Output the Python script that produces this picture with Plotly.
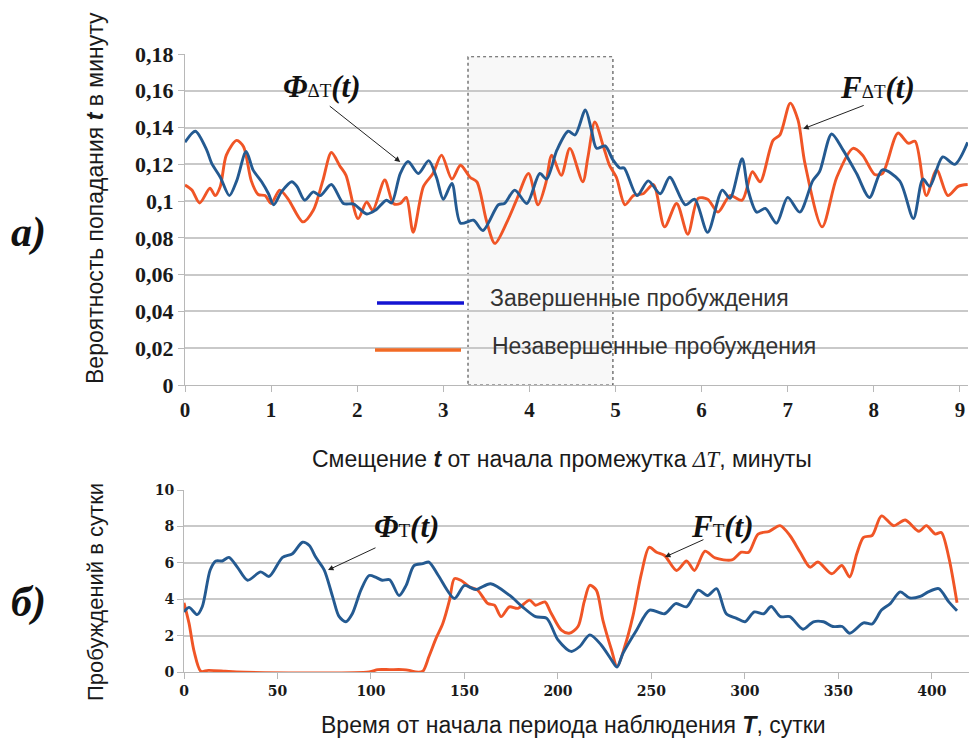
import plotly.graph_objects as go

W, H = 970, 742

# ---------- panel a: probability of landing at offset t (minutes) ----------
t_complete = [0, 0.12, 0.25, 0.31, 0.41, 0.515, 0.6, 0.71, 0.79, 0.89, 0.97, 1.03, 1.12, 1.24, 1.30,
              1.39, 1.49, 1.57, 1.70, 1.84, 1.96, 2.11, 2.21, 2.34, 2.40, 2.50, 2.59, 2.71, 2.83, 2.92,
              3.0, 3.1, 3.2, 3.35, 3.46, 3.64, 3.71, 3.83, 3.97, 4.12, 4.2, 4.32, 4.45, 4.53, 4.65,
              4.72, 4.78, 4.88, 4.97, 5.05, 5.1, 5.25, 5.38, 5.52, 5.63, 5.81, 5.92, 6.07, 6.24, 6.33,
              6.47, 6.54, 6.64, 6.74, 6.87, 7.0, 7.14, 7.29, 7.37, 7.51, 7.64, 7.8, 7.95, 8.1, 8.3,
              8.46, 8.57, 8.65, 8.8, 8.94, 9.09]
p_complete = [0.132, 0.138, 0.128, 0.1205, 0.113, 0.103, 0.111, 0.127, 0.117, 0.1105, 0.104, 0.098,
              0.105, 0.1105, 0.108, 0.1005, 0.105, 0.103, 0.109, 0.0987, 0.0984, 0.093, 0.095, 0.1005,
              0.099, 0.115, 0.1215, 0.115, 0.122, 0.113, 0.101, 0.1096, 0.088, 0.0896, 0.084, 0.098,
              0.0987, 0.106, 0.0987, 0.115, 0.112, 0.1278, 0.138, 0.136, 0.1496, 0.1387, 0.1287, 0.130,
              0.1224, 0.118, 0.118, 0.103, 0.111, 0.104, 0.113, 0.098, 0.101, 0.083, 0.106, 0.1015,
              0.123, 0.106, 0.094, 0.096, 0.088, 0.102, 0.094, 0.111, 0.116, 0.1365, 0.128, 0.115,
              0.102, 0.117, 0.111, 0.0905, 0.112, 0.108, 0.124, 0.12, 0.132]

t_incomplete = [0, 0.08, 0.17, 0.29, 0.35, 0.41, 0.48, 0.6, 0.68, 0.77, 0.85, 0.93, 1.0, 1.1, 1.2,
                1.37, 1.49, 1.6, 1.7, 1.8, 1.87, 2.01, 2.11, 2.18, 2.32, 2.42, 2.5, 2.57, 2.65, 2.77,
                2.88, 2.98, 3.1, 3.2, 3.31, 3.39, 3.5, 3.6, 3.74, 3.85, 3.99, 4.1, 4.19, 4.26, 4.37,
                4.47, 4.62, 4.68, 4.76, 4.86, 4.93, 5.01, 5.11, 5.21, 5.32, 5.44, 5.57, 5.71, 5.84,
                5.96, 6.07, 6.19, 6.33, 6.47, 6.59, 6.68, 6.83, 6.91, 7.03, 7.12, 7.2, 7.4, 7.57,
                7.76, 7.87, 8.01, 8.1, 8.28, 8.4, 8.48, 8.61, 8.73, 8.86, 8.98, 9.09]
p_incomplete = [0.1087, 0.106, 0.099, 0.107, 0.103, 0.108, 0.125, 0.133, 0.1296, 0.111, 0.1036, 0.103,
                0.0987, 0.106, 0.101, 0.0887, 0.095, 0.111, 0.1264, 0.119, 0.114, 0.0905, 0.0996,
                0.095, 0.1115, 0.0987, 0.0987, 0.102, 0.083, 0.108, 0.115, 0.125, 0.112, 0.1195,
                0.113, 0.1105, 0.0896, 0.077, 0.0887, 0.1005, 0.115, 0.098, 0.1096, 0.125, 0.114,
                0.1287, 0.1105, 0.124, 0.143, 0.1296, 0.1195, 0.113, 0.098, 0.103, 0.104, 0.109,
                0.086, 0.0987, 0.082, 0.1015, 0.101, 0.094, 0.103, 0.1005, 0.116, 0.1105, 0.133,
                0.136, 0.1533, 0.144, 0.1205, 0.086, 0.113, 0.1287, 0.125, 0.1145, 0.115, 0.137,
                0.1315, 0.1325, 0.103, 0.117, 0.103, 0.108, 0.109]

# ---------- panel b: awakenings per day over the observation period ----------
day_complete = [0, 2.7, 7, 9.8, 14, 17, 20.5, 24, 28.6, 34, 41, 45.5, 52.7, 58, 63.4, 67, 70.5, 75,
                79.5, 83, 86.6, 90, 94.6, 99, 102.7, 106, 110, 115, 118.8, 123, 127.7, 131, 136,
                144.6, 150, 156, 164, 174, 181, 188, 194, 200, 207, 211.6, 217, 223, 228.6, 231.6,
                234.8, 242, 249, 257, 263, 268.75, 275, 280, 284.8, 290, 295.5, 300, 305, 310, 314,
                319, 324, 331, 336.6, 342, 347, 352, 356, 363.4, 368, 373, 377.7, 383, 388, 393.75,
                398, 403.6, 409, 413.4]
n_complete = [3.3, 3.55, 3.15, 3.6, 5.6, 6.1, 6.1, 6.3, 5.75, 5.04, 5.5, 5.25, 6.3, 6.5, 7.13, 6.95,
              6.3, 5.6, 4.13, 3.04, 2.76, 3.2, 4.5, 5.3, 5.2, 5.04, 5.07, 4.2, 4.76, 5.85, 5.95, 6.04,
              5.3, 4.04, 4.76, 4.53, 4.85, 4.22, 3.58, 3.04, 2.95, 1.76, 1.13, 1.4, 2.04, 1.5, 0.67,
              0.27, 1.04, 2.3, 3.4, 3.2, 3.76, 3.58, 4.5, 4.2, 4.58, 3.2, 2.95, 2.76, 3.3, 3.2, 3.6,
              3.04, 3.04, 2.35, 2.76, 2.76, 2.5, 2.5, 2.13, 2.7, 2.64, 3.4, 3.76, 4.4, 4.07, 4.16,
              4.4, 4.58, 3.85, 3.36]

day_incomplete = [0, 2.7, 5.4, 9, 13, 22, 28, 99, 103.6, 110, 117, 120.5, 124, 127.7, 131, 135,
                  138.4, 142, 144.6, 148, 152.7, 157, 162.5, 166, 169.6, 174, 178.6, 184.8, 188, 193,
                  196, 201.8, 206, 210.7, 214, 217, 220.5, 224, 228.6, 231.6, 235.7, 240, 244.6,
                  248.75, 252.7, 257, 263.4, 268.75, 273, 278.6, 284, 293, 298, 302, 307, 313,
                  318.75, 324, 329.5, 334.8, 339, 346.4, 351.8, 356, 359.8, 363.4, 368, 373, 379.5,
                  385.7, 393, 397, 401.8, 405, 409, 413.4]
n_incomplete = [3.8, 2.67, 1.13, 0.04, 0.09, 0.04, 0, 0, 0.13, 0.13, 0.13, 0.09, 0, 0.04, 0.85, 1.9,
                2.67, 3.95, 5.13, 5.04, 4.67, 4.5, 3.76, 3.67, 3.04, 3.58, 3.5, 3.95, 3.67, 3.85, 3.3,
                2.3, 2.13, 2.5, 3.85, 4.76, 4.5, 2.85, 1.22, 0.3, 1.4, 3.04, 5.4, 6.85, 6.58, 6.4,
                5.58, 6.1, 5.58, 6.64, 6.27, 6.16, 6.58, 6.58, 7.58, 7.73, 8.04, 7.5, 6.58, 5.76,
                6.04, 5.4, 5.85, 5.22, 6.5, 7.4, 7.5, 8.58, 8.04, 8.35, 7.73, 8.04, 7.58, 7.67, 6.3,
                3.8]

a_tickvals = [0, 0.02, 0.04, 0.06, 0.08, 0.10, 0.12, 0.14, 0.16, 0.18]
a_ticktext = ["0", "0,02", "0,04", "0,06", "0,08", "0,1", "0,12", "0,14", "0,16", "0,18"]
a_xticks = list(range(10))
b_yticks = [0, 2, 4, 6, 8, 10]
b_xticks = [0, 50, 100, 150, 200, 250, 300, 350, 400]

window_start, window_end = 3.287, 4.97   # highlighted interval, minutes

legend_labels = ["Завершенные пробуждения", "Незавершенные пробуждения"]

assert len(t_complete) == len(p_complete)
assert len(t_incomplete) == len(p_incomplete)
assert len(day_complete) == len(n_complete)
assert len(day_incomplete) == len(n_incomplete)

BLUE = "#245a91"
ORANGE = "#f05526"
LEG_BLUE = "#1414d2"
LEG_ORANGE = "#f26a24"
GRID = "#c9c9c9"
AXIS = "#b8b8b8"
SANS = "Liberation Sans"
SERIF = "Liberation Serif"


def px(x, y):
    """Pixel position on the page -> paper coordinates."""
    return x / W, 1 - y / H


fig = go.Figure()

line_common = dict(width=2.9, shape="spline", smoothing=0.8)
fig.add_trace(go.Scatter(x=t_incomplete, y=p_incomplete, mode="lines",
                         line=dict(color=ORANGE, **line_common), xaxis="x", yaxis="y",
                         showlegend=False, hoverinfo="skip"))
fig.add_trace(go.Scatter(x=t_complete, y=p_complete, mode="lines",
                         line=dict(color=BLUE, **line_common), xaxis="x", yaxis="y",
                         showlegend=False, hoverinfo="skip"))
fig.add_trace(go.Scatter(x=day_incomplete, y=n_incomplete, mode="lines",
                         line=dict(color=ORANGE, **line_common), xaxis="x2", yaxis="y2",
                         showlegend=False, hoverinfo="skip"))
fig.add_trace(go.Scatter(x=day_complete, y=n_complete, mode="lines",
                         line=dict(color=BLUE, **line_common), xaxis="x2", yaxis="y2",
                         showlegend=False, hoverinfo="skip"))

axis_common = dict(showline=True, linecolor=AXIS, linewidth=1, ticks="outside", ticklen=6,
                   tickcolor=AXIS, zeroline=False, automargin=False)

fig.update_layout(
    width=W, height=H,
    margin=dict(l=0, r=0, t=0, b=0, autoexpand=False),
    paper_bgcolor="white", plot_bgcolor="white",
    showlegend=False,
    xaxis=dict(domain=[185 / W, 968 / W], range=[0, 9.094], tickvals=a_xticks,
               showgrid=False, anchor="y",
               tickfont=dict(family=SERIF, size=21, color="#1a1a1a", weight="bold"),
               **axis_common),
    yaxis=dict(domain=[1 - 385 / H, 1 - 54 / H], range=[0, 0.18], tickvals=a_tickvals,
               ticktext=a_ticktext, showgrid=True, gridcolor=GRID, gridwidth=1.5, anchor="x",
               tickfont=dict(family=SERIF, size=22, color="#1a1a1a", weight="bold"),
               **axis_common),
    xaxis2=dict(domain=[184 / W, 969 / W], range=[0, 419.8], tickvals=b_xticks,
                showgrid=False, anchor="y2",
                tickfont=dict(family="DejaVu Serif", size=14, color="#1a1a1a", weight="bold"),
                **axis_common),
    yaxis2=dict(domain=[1 - 672 / H, 1 - 490 / H], range=[0, 10], tickvals=b_yticks,
                showgrid=True, gridcolor=GRID, gridwidth=1.5, anchor="x2",
                tickfont=dict(family="DejaVu Serif", size=14, color="#1a1a1a", weight="bold"),
                **axis_common),
)

# highlighted interval in panel a
fig.add_shape(type="rect", xref="x", yref="y", x0=window_start, x1=window_end, y0=0, y1=0.1785,
              fillcolor="#f8f8f8", line=dict(color="#555555", width=1.2, dash="dot"), layer="below")

# legend drawn inside panel a
for (x0, x1, y), color in [((377, 464, 303), LEG_BLUE), ((375, 461, 350), LEG_ORANGE)]:
    a0, b0 = px(x0, y)
    a1, _ = px(x1, y)
    fig.add_shape(type="line", xref="paper", yref="paper", x0=a0, x1=a1, y0=b0, y1=b0,
                  line=dict(color=color, width=3.5))
for label, (x, y) in zip(legend_labels, [(488, 298), (490, 346)]):
    ax_, ay_ = px(x, y)
    fig.add_annotation(xref="paper", yref="paper", x=ax_, y=ay_, text=label, showarrow=False,
                       xanchor="left", yanchor="middle",
                       font=dict(family=SANS, size=23, color="#333333"))

# axis titles
titles = [
    ("Вероятность попадания <b><i>t</i></b> в минуту", 95, 198, -90, 23),
    ("Смещение <b><i>t</i></b> от начала промежутка "
     "<span style='font-family:Liberation Serif'><i>ΔT</i></span>, минуты", 562, 459, 0, 23),
    ("Пробуждений в сутки", 95, 592, -90, 22),
    ("Время от начала периода наблюдения <b><i>T</i></b>, сутки", 573, 725, 0, 23),
]
for text, x, y, ang, size in titles:
    xx, yy = px(x, y)
    fig.add_annotation(xref="paper", yref="paper", x=xx, y=yy, text=text, showarrow=False,
                       textangle=ang, xanchor="center", yanchor="middle",
                       font=dict(family=SANS, size=size, color="#1a1a1a"))

# panel letters
for text, x, y in [("а)", 28, 233), ("б)", 28, 602)]:
    xx, yy = px(x, y)
    fig.add_annotation(xref="paper", yref="paper", x=xx, y=yy, text=f"<b><i>{text}</i></b>",
                       showarrow=False, xanchor="center", yanchor="middle",
                       font=dict(family=SERIF, size=42, color="#111111"))

# curve labels
def curve_label(sym, sub):
    return (f"<b><i>{sym}</i></b><span style='font-size:19px'>{sub}</span>"
            f"<b><i>(t)</i></b>")

for text, x, y in [(curve_label("Φ", "ΔT"), 322, 86), (curve_label("F", "ΔT"), 877, 88),
                   (curve_label("Φ", "T"), 406, 526), (curve_label("F", "T"), 722, 526)]:
    xx, yy = px(x, y)
    fig.add_annotation(xref="paper", yref="paper", x=xx, y=yy, text=text, showarrow=False,
                       xanchor="center", yanchor="middle",
                       font=dict(family=SERIF, size=31, color="#111111"))

# pointer arrows (tip on curve, tail offset in pixels)
for xa, ya, x, y, ax, ay in [("x", "y", 2.50, 0.1213, -72, -57),
                             ("x", "y", 7.18, 0.1393, 62, -24),
                             ("x2", "y2", 77, 5.6, 49, -23),
                             ("x2", "y2", 257.2, 6.32, 40, -18)]:
    fig.add_annotation(xref=xa, yref=ya, x=x, y=y, ax=ax, ay=ay, text="", showarrow=True,
                       arrowhead=2, arrowsize=1.1, arrowwidth=1, arrowcolor="#222222")

fig.write_html("out.html")
